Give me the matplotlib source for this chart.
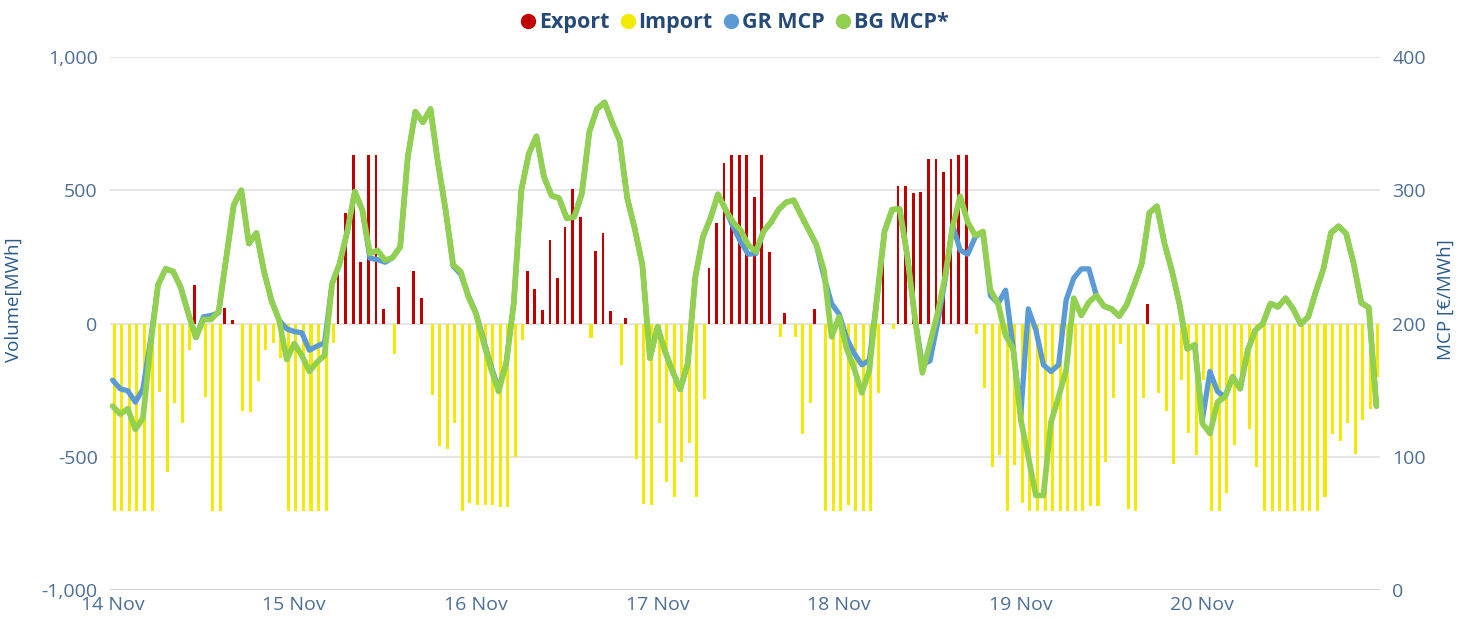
import matplotlib
matplotlib.use("Agg")
import matplotlib.pyplot as plt
from matplotlib.lines import Line2D
from matplotlib.ticker import FuncFormatter
import numpy as np

# ---------------- data (hourly, 14 Nov 00:00 .. 20 Nov 23:00) ----------------
day_labels = ["14 Nov", "15 Nov", "16 Nov", "17 Nov", "18 Nov", "19 Nov", "20 Nov"]

export_nonzero = {
    11: 144, 15: 59, 16: 12,
    30: 206, 31: 416, 32: 634, 33: 230, 34: 634, 35: 634, 36: 54, 38: 138, 40: 196, 41: 96,
    55: 196, 56: 128, 57: 50, 58: 315, 59: 171, 60: 363, 61: 506, 62: 398, 64: 272, 65: 338,
    66: 46, 68: 21,
    79: 209, 80: 379, 81: 603, 82: 634, 83: 634, 84: 634, 85: 475, 86: 634, 87: 268, 89: 38,
    93: 56,
    102: 235, 104: 515, 105: 516, 106: 490, 107: 495, 108: 616, 109: 616, 110: 570, 111: 616,
    112: 634, 113: 634,
    137: 75,
}
export_vals = [export_nonzero.get(h, 0) for h in range(168)]

import_vals = [
    # 14 Nov
    -705, -705, -705, -705, -705, -705, -256, -556, -297, -375, -100, 0,
    -277, -705, -705, 0, 0, -329, -331, -216, -100, -72, -131, -705,
    # 15 Nov
    -705, -705, -705, -705, -705, -72, 0, 0, 0, 0, 0, 0,
    0, -116, 0, 0, 0, 0, -269, -460, -472, -375, -705, -675,
    # 16 Nov
    -681, -681, -681, -688, -688, -502, -60, 0, 0, 0, 0, 0,
    0, 0, 0, -56, 0, 0, 0, -156, 0, -510, -679, -681,
    # 17 Nov
    -375, -594, -650, -521, -448, -650, -285, 0, 0, 0, 0, 0,
    0, 0, 0, 0, -50, 0, -50, -415, -300, 0, -705, -705,
    # 18 Nov
    -705, -681, -705, -705, -705, -262, 0, -22, 0, 0, 0, 0,
    0, 0, 0, 0, 0, 0, -40, -241, -538, -494, -705, -530,
    # 19 Nov
    -675, -705, -705, -705, -705, -705, -705, -705, -705, -685, -685, -521,
    -281, -77, -697, -705, -281, 0, -260, -329, -527, -212, -412, -494,
    # 20 Nov
    -212, -705, -705, -635, -454, -230, -397, -537, -705, -705, -705, -705,
    -705, -705, -705, -705, -650, -415, -440, -375, -491, -362, -322, -200,
]

bg_mcp = [
    # 14 Nov
    138, 132, 136, 120.5, 129, 183, 229, 241, 239, 227, 207.5, 189.5,
    203, 203, 209, 249, 289, 300, 260, 268, 239, 217, 202.5, 173,
    # 15 Nov
    185, 176, 164, 171, 176, 230, 245, 269, 299, 285, 252.5, 255,
    247.5, 249.5, 257.5, 325, 359, 351, 361, 320, 285, 244, 239, 220,
    # 16 Nov
    207.5, 186, 166, 149, 170, 215, 300, 327.5, 340.5, 310, 296, 294,
    279, 280, 297.5, 344, 361, 366, 351, 337.5, 294, 271, 244, 174,
    # 17 Nov
    197.5, 179, 164, 150.5, 170, 235, 265, 279, 297, 285.5, 276, 270,
    259, 254, 269, 276, 285.5, 291, 292.5, 281, 270, 259, 240, 190,
    # 18 Nov
    205, 181, 166, 148, 165, 219, 269, 285.5, 286, 251, 205, 163,
    185, 207.5, 235, 272.5, 295.5, 276, 266, 269, 225, 215, 191, 181,
    # 19 Nov
    128, 100, 71, 71, 126, 145, 165, 219, 206, 216, 221, 213,
    211, 205.5, 214, 229, 245, 283, 288, 260, 239, 214, 181, 184,
    # 20 Nov
    125, 117.5, 141, 145, 160, 151, 180, 195, 200, 215, 212.5, 219,
    211, 199.5, 205, 224, 241, 268, 273, 267.5, 245, 215.5, 212, 138,
]

gr_mcp = [
    # 14 Nov
    157.5, 151, 149.5, 141, 151, 187, 229, 241, 239, 227, 207.5, 189.5,
    205, 206, 208, 249, 289, 300, 260, 268, 239, 217, 202.5, 196,
    # 15 Nov
    194, 193, 180, 183, 185.5, 230, 245, 269, 299, 285, 249, 248,
    246, 249.5, 257.5, 325, 359, 351, 361, 320, 285, 243, 237, 221,
    # 16 Nov
    208, 188, 168, 151, 170, 215, 300, 327.5, 340.5, 310, 296, 294,
    279, 280, 297.5, 344, 361, 366, 351, 337.5, 294, 271, 244, 174,
    # 17 Nov
    197.5, 179, 164, 150.5, 170, 235, 265, 279, 297, 285.5, 272.5, 261,
    252, 252.5, 269, 276, 285.5, 291, 292.5, 281, 270, 259, 235, 215,
    # 18 Nov
    207, 189, 177.5, 169, 172.5, 219, 269, 285.5, 286, 251, 205, 169,
    172, 200, 232.5, 274, 255, 252, 265, 269, 221, 215, 225, 182,
    # 19 Nov
    131, 211, 195, 169, 164, 169, 217.5, 234, 241, 241, 221, 213,
    211, 205.5, 214, 229, 245, 283, 288, 260, 239, 214, 181, 184,
    # 20 Nov
    127.5, 164, 149, 145, 160, 151, 180, 195, 200, 215, 212.5, 219,
    211, 199.5, 205, 224, 241, 268, 273, 267.5, 245, 215.5, 212, 138,
]

# ---------------- styling ----------------
C_EXPORT = "#c00000"
C_IMPORT = "#f2ea00"
C_GR = "#5b9bd5"
C_BG = "#92d050"
C_TICK = "#4d6f96"
C_TITLE = "#2a5a8c"
C_LEGEND = "#264a78"
C_GRID = "#e2e2e2"

plt.rcParams["font.family"] = ["Open Sans", "DejaVu Sans"]

fig = plt.figure(figsize=(14.66, 6.21), dpi=100)
ax = fig.add_axes([0.0752, 0.0499, 0.8661, 0.8583])
ax2 = ax.twinx()

hours = np.arange(168)
off = 0.21
ax.bar(hours - off, export_vals, width=0.36, color=C_EXPORT, zorder=2, linewidth=0)
ax.bar(hours + off, import_vals, width=0.40, color=C_IMPORT, zorder=2, linewidth=0)

ax2.plot(hours, gr_mcp, color=C_GR, lw=3.8, solid_joinstyle="round", solid_capstyle="round", zorder=3)
ax2.plot(hours, bg_mcp, color=C_BG, lw=4.1, solid_joinstyle="round", solid_capstyle="round", zorder=4)

ax.set_xlim(-0.32, 167.47)
ax.set_ylim(-1000, 1000)
ax2.set_ylim(0, 400)
ax.set_yticks([-1000, -500, 0, 500, 1000])
ax2.set_yticks([0, 100, 200, 300, 400])
ax.yaxis.set_major_formatter(FuncFormatter(lambda v, p: f"{int(v):,}"))
ax2.yaxis.set_major_formatter(FuncFormatter(lambda v, p: f"{int(v)}"))

ax.set_xticks(np.arange(0, 168, 24))
ax.set_xticklabels(day_labels)

for a in (ax, ax2):
    for s in a.spines.values():
        s.set_visible(False)
    a.tick_params(length=0, labelsize=14, colors=C_TICK)
ax.tick_params(axis="y", pad=9)
ax2.tick_params(axis="y", pad=9)
ax.tick_params(axis="x", pad=4)

ax.grid(axis="y", color=C_GRID, lw=1.2, zorder=0)
ax.set_axisbelow(True)
ax.axhline(-1000, color="#d4d4d4", lw=1.5, zorder=1)

ax.set_ylabel("Volume[MWh]", color=C_TITLE, fontsize=13.5)
ax.yaxis.set_label_coords(-0.069, 0.544)
ax2.set_ylabel("MCP [€/MWh]", color=C_TITLE, fontsize=13.5, rotation=90)
ax2.yaxis.set_label_coords(1.045, 0.544)

handles = [
    Line2D([], [], ls="", marker="o", ms=10, color=C_EXPORT),
    Line2D([], [], ls="", marker="o", ms=10, color=C_IMPORT),
    Line2D([], [], ls="", marker="o", ms=10, color=C_GR),
    Line2D([], [], ls="", marker="o", ms=10, color=C_BG),
]
leg = fig.legend(handles, ["Export", "Import", "GR MCP", "BG MCP*"], loc="center",
                 bbox_to_anchor=(0.5, 0.963), ncol=4, frameon=False,
                 handletextpad=0.0, columnspacing=0.35, handlelength=1.0,
                 prop={"weight": "bold", "size": 15.5})
for t in leg.get_texts():
    t.set_color(C_LEGEND)

fig.savefig("out.png", dpi=100)
